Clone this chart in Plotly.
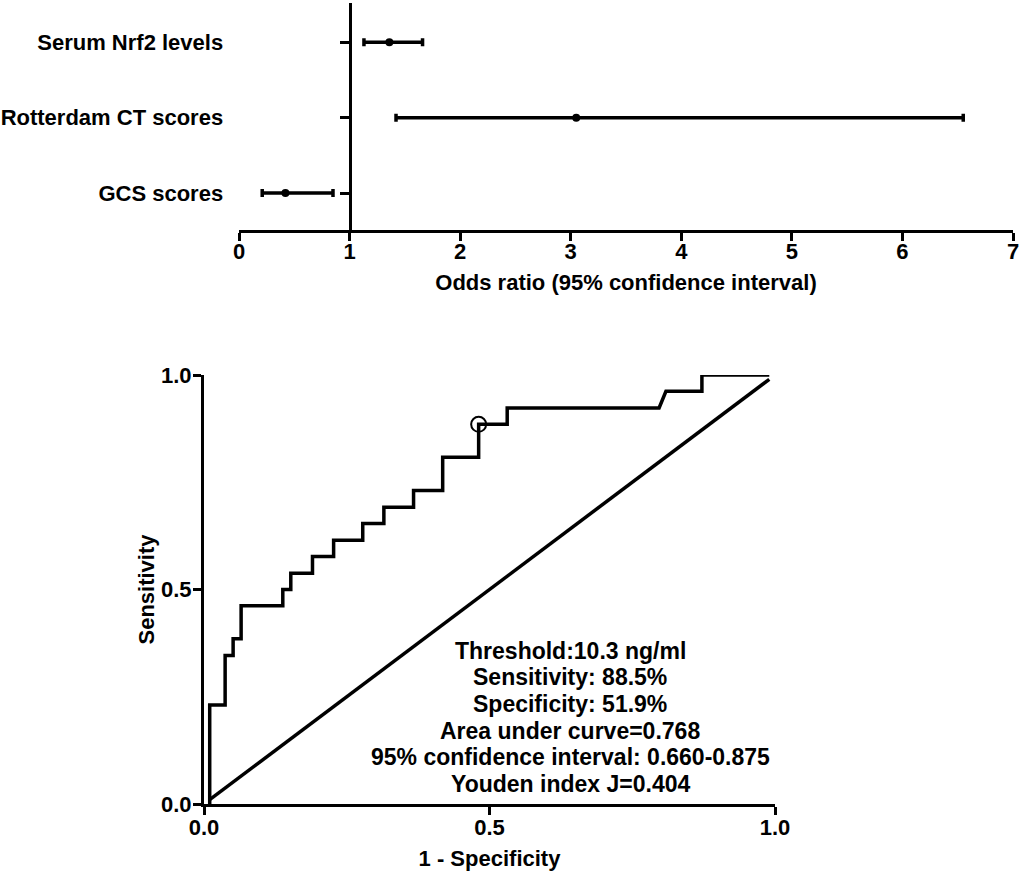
import plotly.graph_objects as go

# Forest plot: odds ratios with 95% CI (top to bottom order)
factors = ['Serum Nrf2 levels', 'Rotterdam CT scores', 'GCS scores']
odds_ratio = [1.36, 3.05, 0.42]
ci_low = [1.13, 1.42, 0.21]
ci_high = [1.66, 6.55, 0.85]
or_ticks = [0, 1, 2, 3, 4, 5, 6, 7]

# ROC curve vertices (1 - specificity, sensitivity)
roc_fpr = [0.01, 0.01, 0.037, 0.037, 0.051, 0.051, 0.065, 0.065, 0.138, 0.138,
           0.152, 0.152, 0.19, 0.19, 0.227, 0.227, 0.278, 0.278, 0.315, 0.315,
           0.367, 0.367, 0.418, 0.418, 0.481, 0.481, 0.531, 0.531, 0.797, 0.809,
           0.872, 0.872, 0.99]
roc_tpr = [0.0, 0.231, 0.231, 0.346, 0.346, 0.385, 0.385, 0.462, 0.462, 0.5,
           0.5, 0.538, 0.538, 0.577, 0.577, 0.615, 0.615, 0.654, 0.654, 0.692,
           0.692, 0.731, 0.731, 0.808, 0.808, 0.885, 0.885, 0.923, 0.923, 0.962,
           0.962, 1.0, 1.0]
ref_line = [0.01, 0.99]
cutoff_fpr = [0.481]
cutoff_tpr = [0.885]
roc_ticks = [0.0, 0.5, 1.0]

stats_lines = [
    'Threshold:10.3 ng/ml',
    'Sensitivity: 88.5%',
    'Specificity: 51.9%',
    'Area under curve=0.768',
    '95% confidence interval: 0.660-0.875',
    'Youden index J=0.404',
]

W, H = 1021, 874
FONT = dict(family='Liberation Sans, Arial, sans-serif', size=22, color='black', weight='bold')
NOTE_FONT = dict(FONT, size=23)

def px_x(p):
    return p / W

def px_y(p):
    return 1 - p / H

fig = go.Figure()

# forest plot
fig.add_trace(go.Scatter(
    x=odds_ratio, y=factors, mode='markers',
    marker=dict(color='black', size=8),
    error_x=dict(type='data', symmetric=False,
                 array=[h - o for h, o in zip(ci_high, odds_ratio)],
                 arrayminus=[o - l for o, l in zip(odds_ratio, ci_low)],
                 color='black', thickness=3.5, width=4),
    xaxis='x', yaxis='y', showlegend=False, hoverinfo='skip'
))

# ROC curve
fig.add_trace(go.Scatter(
    x=roc_fpr, y=roc_tpr, mode='lines',
    line=dict(color='black', width=3.5),
    xaxis='x2', yaxis='y2', showlegend=False
))
fig.add_trace(go.Scatter(
    x=ref_line, y=ref_line, mode='lines',
    line=dict(color='black', width=3.5),
    xaxis='x2', yaxis='y2', showlegend=False
))
fig.add_trace(go.Scatter(
    x=cutoff_fpr, y=cutoff_tpr, mode='markers',
    marker=dict(symbol='circle-open', size=15, color='black', line=dict(width=2)),
    xaxis='x2', yaxis='y2', showlegend=False
))

x1_dom = [px_x(239), px_x(1013)]
y1_dom = [px_y(230), px_y(3)]
x2_dom = [px_x(204), px_x(775)]
y2_dom = [px_y(804), px_y(375)]

axis_common = dict(showgrid=False, zeroline=False, showline=True, linecolor='black',
                   linewidth=3, ticks='outside', tickcolor='black', tickwidth=3,
                   tickfont=FONT, automargin=False)

annotations = []
for i, line in enumerate(stats_lines):
    annotations.append(dict(
        text=line, xref='x2', yref='y2', x=0.641, y=0.357 - 0.062 * i,
        xanchor='center', yanchor='middle', showarrow=False, font=NOTE_FONT
    ))

fig.update_layout(
    width=W, height=H,
    margin=dict(l=0, r=0, t=0, b=0),
    paper_bgcolor='white', plot_bgcolor='white',
    font=FONT,
    xaxis=dict(axis_common, domain=x1_dom, anchor='y', range=[0, 7],
               tickvals=or_ticks, ticklen=8, ticklabelstandoff=-8,
               title=dict(text='Odds ratio (95% confidence interval)', font=FONT, standoff=12)),
    yaxis=dict(axis_common, domain=y1_dom, anchor='free',
               position=x1_dom[0] + (1 / 7) * (x1_dom[1] - x1_dom[0]),
               type='category', categoryorder='array',
               categoryarray=factors[::-1], range=[-0.49, 2.52],
               ticklen=9, ticklabelstandoff=112),
    xaxis2=dict(axis_common, domain=x2_dom, anchor='y2', range=[0, 1],
                tickvals=roc_ticks, tickformat='.1f', ticklen=8, ticklabelstandoff=-6,
                title=dict(text='1 - Specificity', font=FONT, standoff=12)),
    yaxis2=dict(axis_common, domain=y2_dom, anchor='x2', range=[0, 1],
                tickvals=roc_ticks, tickformat='.1f', ticklen=8, ticklabelstandoff=-3,
                title=dict(text='Sensitivity', font=FONT, standoff=1)),
    annotations=annotations,
)

# drop the default 8px body margin so the figure fills the window exactly
fig.write_html('out.html', config={'displayModeBar': False},
               post_script="document.body.style.margin='0';")
